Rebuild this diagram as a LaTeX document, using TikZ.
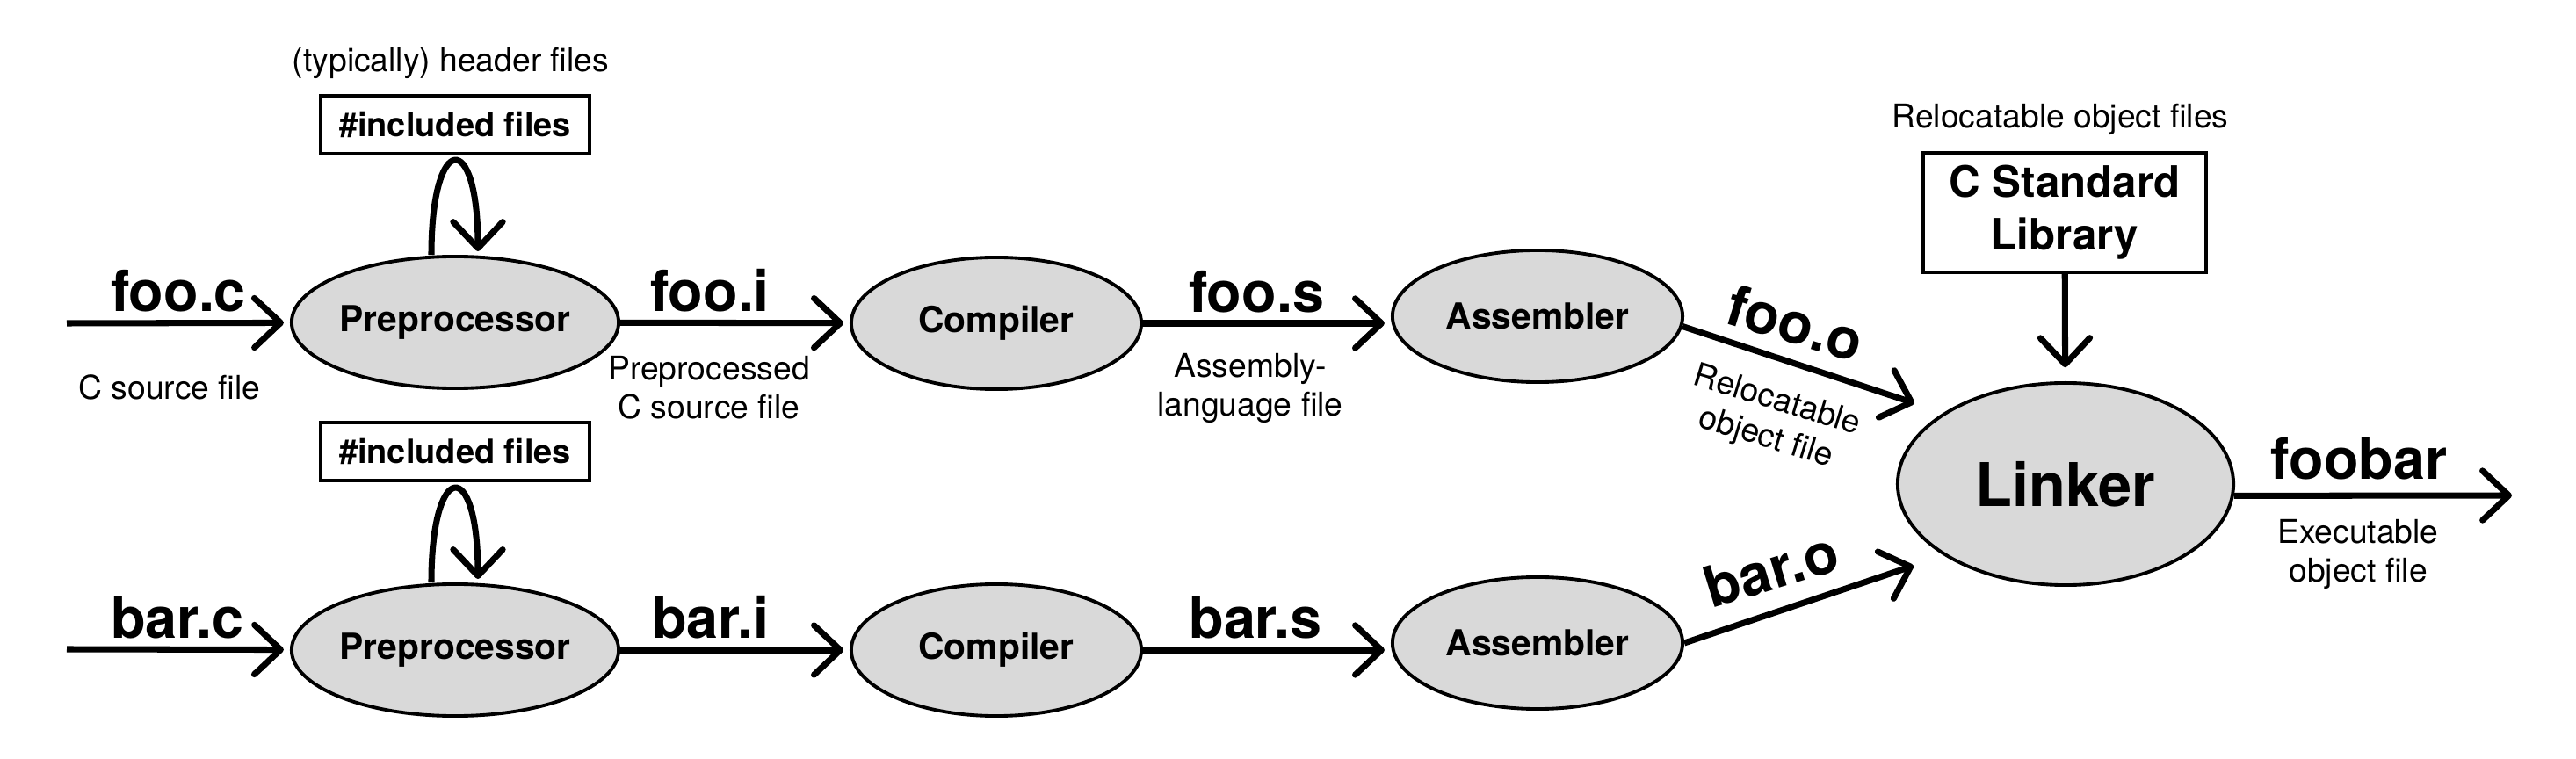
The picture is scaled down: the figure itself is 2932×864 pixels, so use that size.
\documentclass[tikz,border=0pt]{standalone}
\usepackage{fontspec}
\setmainfont{TeX Gyre Heros}
\usetikzlibrary{calc,shapes.geometric,arrows.meta}
\definecolor{procgray}{HTML}{D9D9D9}

\begin{document}
\begin{tikzpicture}[x=0.01cm,y=-0.01cm,
        link/.style={line width=2pt,-{Straight Barb[length=8.5pt,width=16pt,round]},shorten >=2pt},
        proc/.style={ellipse,draw,line width=1.1pt,fill=procgray,inner sep=0pt,
            minimum width=3.3cm,minimum height=1.5cm,font=\bfseries\fontsize{11.6}{13}\selectfont},
        incbox/.style={draw,line width=1.1pt,inner sep=0pt,minimum width=3.06cm,
            minimum height=0.66cm,font=\bfseries\fontsize{10.8}{12}\selectfont},
        fname/.style={anchor=base,inner sep=0pt,font=\bfseries\fontsize{18.4}{20}\selectfont},
        note/.style={align=center,inner sep=0pt,font=\fontsize{10.6}{12.5}\selectfont}]
            \path[use as bounding box] (0,0) rectangle (2932,864);

            \node[proc] (p1) at (518,367) {Preprocessor};
            \node[proc] (c1) at (1134,368) {Compiler};
            \node[proc] (a1) at (1750,360) {Assembler};
            \node[proc] (p2) at (518,740) {Preprocessor};
            \node[proc] (c2) at (1134,740) {Compiler};
            \node[proc] (a2) at (1750,732) {Assembler};
            \node[proc,minimum width=3.82cm,minimum height=2.3cm,
                font=\bfseries\fontsize{19.5}{22}\selectfont] (lnk) at (2351,551) {Linker};

            \node[incbox] (inc1) at (518,142) {\#included files};
            \node[incbox] (inc2) at (518,514) {\#included files};
            \node[draw,line width=1.1pt,minimum width=3.21cm,minimum height=1.36cm,align=center,
                font=\bfseries\fontsize{14}{17}\selectfont] (lib) at (2350,242) {C Standard\\Library};

            \coordinate (fooc) at (76,368);
            \coordinate (barc) at (76,739);
            \coordinate (fooin) at (2179,459);
            \coordinate (barin) at (2178,644);
            \coordinate (exe) at (2859,564);

            \draw[link] (fooc) -- (p1);
            \draw[link] (p1) -- (c1);
            \draw[link] (c1) -- (c1 -| a1.west);
            \draw[link] (barc) -- (p2);
            \draw[link] (p2) -- (c2);
            \draw[link] (c2) -- (c2 -| a2.west);
            \draw[link,shorten >=0pt] (a1.-4) -- (fooin);
            \draw[link,shorten >=0pt] (a2.east) -- (barin);
            \draw[link,shorten >=4.5pt] (lib) -- (lnk);
            \draw[link,shorten >=0pt] (lnk.-4) -- (exe);

            \foreach \p in {p1,p2} {
                \draw[link,shorten >=0pt] ($ (\p.north) + (-27,0) $) .. controls +(0,-140) and +(0,-140) .. ($ (\p.north) + (26,-4) $);
            }

            \node[fname] (fooclbl) at (203,355) {foo.c};
            \node[fname] (fooilbl) at (808,355) {foo.i};
            \node[fname] (fooslbl) at (1430,356) {foo.s};
            \node[fname] (barclbl) at (202,727) {bar.c};
            \node[fname] (barilbl) at (809,727) {bar.i};
            \node[fname] (barslbl) at (1429,727) {bar.s};
            \node[fname,anchor=center,rotate=-17] (fooolbl) at (2044,368) {foo.o};
            \node[fname,anchor=center,rotate=17] (barolbl) at (2016,648) {bar.o};
            \node[fname] (foobarlbl) at (2685,546) {foobar};

            \node[note] (srcnote) at (193,441) {C source file};
            \node[note] (prenote) at (807,441) {Preprocessed\\C source file};
            \node[note] (asmnote) at (1423,442) {Assembly-\\language file};
            \node[note,rotate=-17] (relnote) at (2016,478) {Relocatable\\object file};
            \node[note] (exenote) at (2684,631) {Executable\\object file};
            \node[note] (hdrnote) at (513,72) {(typically) header files};
            \node[note] (libnote) at (2345,136) {Relocatable object files};
        \end{tikzpicture}
\end{document}
